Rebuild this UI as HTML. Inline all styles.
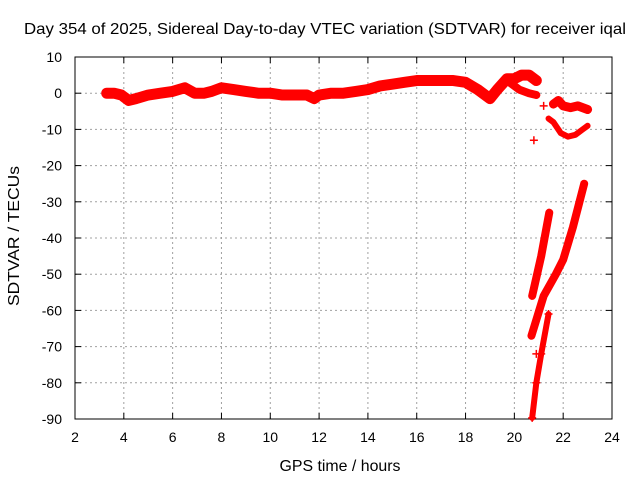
<!DOCTYPE html>
<html><head><meta charset="utf-8"><style>
body{margin:0;background:#fff}
svg{display:block;font-family:"Liberation Sans",sans-serif}
</style></head><body>
<svg id="chart" width="640" height="480" viewBox="0 0 640 480">
<text x="325" y="34" text-anchor="middle" font-size="16" textLength="602" lengthAdjust="spacingAndGlyphs">Day 354 of 2025, Sidereal Day-to-day VTEC variation (SDTVAR) for receiver iqal</text>
<text x="340" y="471" text-anchor="middle" font-size="16" textLength="121" lengthAdjust="spacingAndGlyphs">GPS time / hours</text>
<text transform="translate(19,236) rotate(-90)" text-anchor="middle" font-size="16" textLength="140" lengthAdjust="spacingAndGlyphs">SDTVAR / TECUs</text>
<g id="grid"></g><g id="axes"></g><g id="marks"></g>
</svg>
<script>
const xTicks=[2,4,6,8,10,12,14,16,18,20,22,24];
const yTicks=[10,0,-10,-20,-30,-40,-50,-60,-70,-80,-90];
const mainT=[3.3,3.6,3.9,4.2,4.5,5,5.5,6,6.5,6.9,7.3,7.6,8,8.5,9,9.5,10,10.5,11,11.5,11.8,12,12.5,13,13.5,14,14.5,15,15.5,16,16.5,17,17.5,18,18.5,19,19.3,19.7,20,20.3,20.6,20.9];
const mainV=[0,0,-0.5,-2,-1.5,-0.5,0,0.5,1.5,0,0,0.5,1.5,1,0.5,0,0,-0.5,-0.5,-0.5,-1.5,-0.5,0,0,0.5,1,2,2.5,3,3.5,3.5,3.5,3.5,3,1,-1.5,1,4,4,5,5,3.5];
const branchT=[19.8,20.2,20.6,20.9];
const branchV=[3,1,0,-0.5];
const clusterT=[21.6,21.8,22,22.3,22.6,23];
const clusterV=[-3,-2,-3.5,-4,-3.5,-4.5];
const arcT=[21.4,21.6,21.9,22.2,22.5,22.8,23];
const arcV=[-7,-8,-11,-12,-11.5,-10,-9];
const lineAT=[20.73,21.1,21.43];
const lineAV=[-56,-45,-33];
const lineBT=[20.7,21.2,21.7,22,22.4,22.86];
const lineBV=[-67,-56,-50,-46,-37,-25];
const lineCT=[20.73,20.9,21.1,21.4];
const lineCV=[-89.7,-80,-72,-61];
const singleT=[20.8,21.2,20.9];
const singleV=[-13,-3.5,-72];
const L=75,R=612,T=57,B=419;
const xs=v=>L+(v-2)/22*(R-L), ys=v=>T+(10-v)/100*(B-T);
const NS='http://www.w3.org/2000/svg';
function mk(tag,attrs,parent){const e=document.createElementNS(NS,tag);for(const k in attrs)e.setAttribute(k,attrs[k]);parent.appendChild(e);return e;}
const grid=document.getElementById('grid'),axes=document.getElementById('axes'),marks=document.getElementById('marks');
xTicks.forEach(t=>{const x=xs(t);
 if(t>2&&t<24){const g=mk('line',{x1:x,x2:x,y1:T,y2:B,stroke:'#a0a0a0','stroke-dasharray':'2,3'},grid);}
 mk('line',{x1:x,x2:x,y1:B,y2:B-6,stroke:'#000'},axes);mk('line',{x1:x,x2:x,y1:T,y2:T+6,stroke:'#000'},axes);
 const l=mk('text',{x:x,y:B+23,'text-anchor':'middle','font-size':14},axes);l.textContent=t;
 });
yTicks.forEach(t=>{const y=ys(t);
 if(t<10&&t>-90){const g=mk('line',{x1:L,x2:R,y1:y,y2:y,stroke:'#a0a0a0','stroke-dasharray':'2,3'},grid);}
 mk('line',{x1:L,x2:L+6,y1:y,y2:y,stroke:'#000'},axes);mk('line',{x1:R,x2:R-6,y1:y,y2:y,stroke:'#000'},axes);
 const l=mk('text',{x:L-13,y:y+5,'text-anchor':'end','font-size':14},axes);l.textContent=t;
 });
const fr=mk('rect',{x:L,y:T,width:R-L,height:B-T,fill:'none',stroke:'#000'},axes);

function series(ts,vs,name,w){
 const pts=ts.map((t,i)=>xs(t)+','+ys(vs[i])).join(' ');
 const p=mk('polyline',{points:pts,fill:'none',stroke:'#f00','stroke-width':w,'stroke-linejoin':'round','stroke-linecap':'round'},marks);
 
}
function plus(ts,vs,name){ts.forEach((t,i)=>{const x=xs(t),y=ys(vs[i]);
 const p=mk('path',{d:`M${x-4},${y}H${x+4}M${x},${y-4}V${y+4}`,stroke:'#f00','stroke-width':1.5},marks);
 });}
series(mainT,mainV,'main-trace',11);
series(branchT,branchV,'branch-trace',8);
series(clusterT,clusterV,'cluster-trace',9);
series(arcT,arcV,'arc-trace',6);
series(lineAT,lineAV,'steep-trace-a',8);
series(lineBT,lineBV,'steep-trace-b',8);
series(lineCT,lineCV,'steep-trace-c',6);
plus(singleT,singleV,'isolated-point');
plus(lineCT,lineCV,'steep-trace-c-point');
</script>
</body></html>
